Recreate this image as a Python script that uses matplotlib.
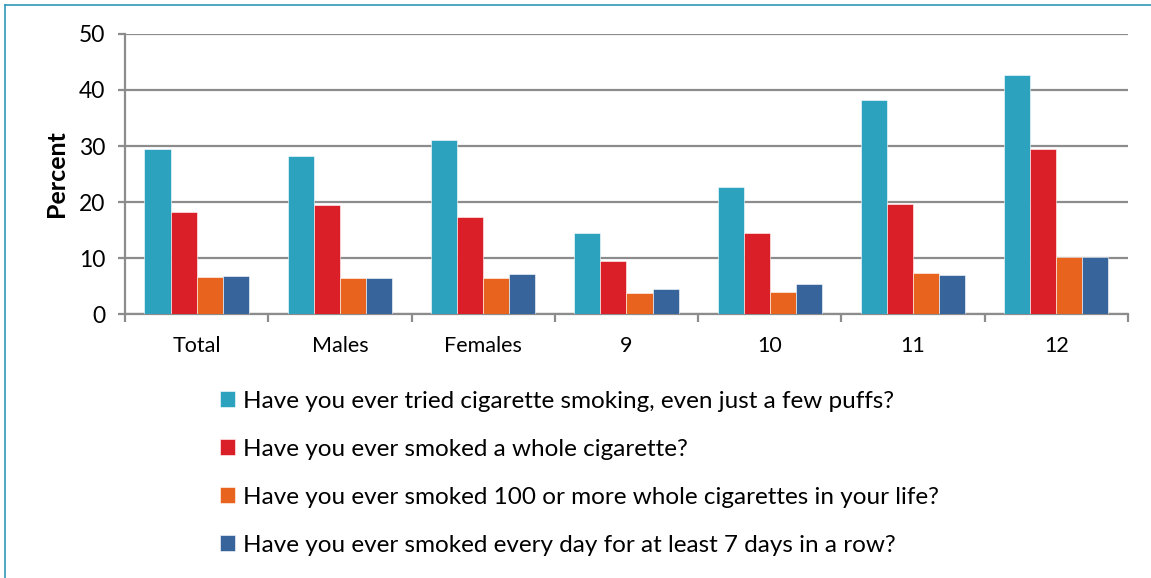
import matplotlib.pyplot as plt
from matplotlib.lines import Line2D
import numpy as np

plt.rcParams['font.family'] = ['Lato', 'DejaVu Sans']

grupos = ['Total', 'Males', 'Females', '9', '10', '11', '12']
tentou = [29.5, 28.3, 31.1, 14.4, 22.6, 38.2, 42.6]
inteiro = [18.3, 19.5, 17.4, 9.5, 14.4, 19.6, 29.5]
cem_ou_mais = [6.6, 6.5, 6.5, 3.8, 3.9, 7.3, 10.1]
sete_dias = [6.8, 6.5, 7.2, 4.4, 5.3, 7.0, 10.1]

perguntas = [
    'Have you ever tried cigarette smoking, even just a few puffs?',
    'Have you ever smoked a whole cigarette?',
    'Have you ever smoked 100 or more whole cigarettes in your life?',
    'Have you ever smoked every day for at least 7 days in a row?',
]
cores = ['#2CA2BF', '#DA1F28', '#E8641E', '#38649C']
series = [tentou, inteiro, cem_ou_mais, sete_dias]

cinza = '#8C8C8C'

fig = plt.figure(figsize=(11.51, 5.78), dpi=100)
ax = fig.add_axes([0.1086, 0.4567, 0.8714, 0.4845])

x = np.arange(len(grupos))
largura = 0.182
barras = []
for i, (valores, cor) in enumerate(zip(series, cores)):
    b = ax.bar(x + (i - 1.5) * largura, valores, largura, color=cor,
               edgecolor='white', linewidth=0.4, zorder=3)
    barras.append(b)

ax.set_xlim(-0.5, len(grupos) - 0.5)
ax.set_ylim(0, 50)
ax.set_yticks(range(0, 51, 10))
ax.yaxis.grid(True, color=cinza, linewidth=1.6, zorder=0)
ax.set_axisbelow(True)

ax.set_xticks(x)
ax.set_xticklabels(grupos)
ax.set_xticks(np.arange(-0.5, len(grupos)), minor=True)
ax.tick_params(axis='x', which='major', length=0, pad=16, labelsize=15.5)
ax.tick_params(axis='x', which='minor', length=6, width=1.6, color=cinza)
ax.tick_params(axis='y', length=5, width=1.6, color=cinza, labelsize=16.5, pad=9)

for lado in ['top', 'right']:
    ax.spines[lado].set_visible(False)
for lado in ['left', 'bottom']:
    ax.spines[lado].set_color(cinza)
    ax.spines[lado].set_linewidth(1.6)

ax.set_ylabel('Percent', fontsize=18, fontweight='bold', labelpad=8)

fig.legend(barras, perguntas, loc='upper left', bbox_to_anchor=(0.183, 0.341),
           frameon=False, fontsize=17.5, handlelength=0.6, handleheight=0.6,
           handletextpad=0.35, labelspacing=1.11, borderaxespad=0)

# moldura azul no canto superior esquerdo
borda = '#2E9AB8'
fig.add_artist(Line2D([5 / 1151, 5 / 1151], [0, 1 - 5 / 578], color=borda,
                      linewidth=1.2, transform=fig.transFigure))
fig.add_artist(Line2D([5 / 1151, 1], [1 - 5 / 578, 1 - 5 / 578], color=borda,
                      linewidth=1.2, transform=fig.transFigure))

plt.savefig('out.png', dpi=100)
